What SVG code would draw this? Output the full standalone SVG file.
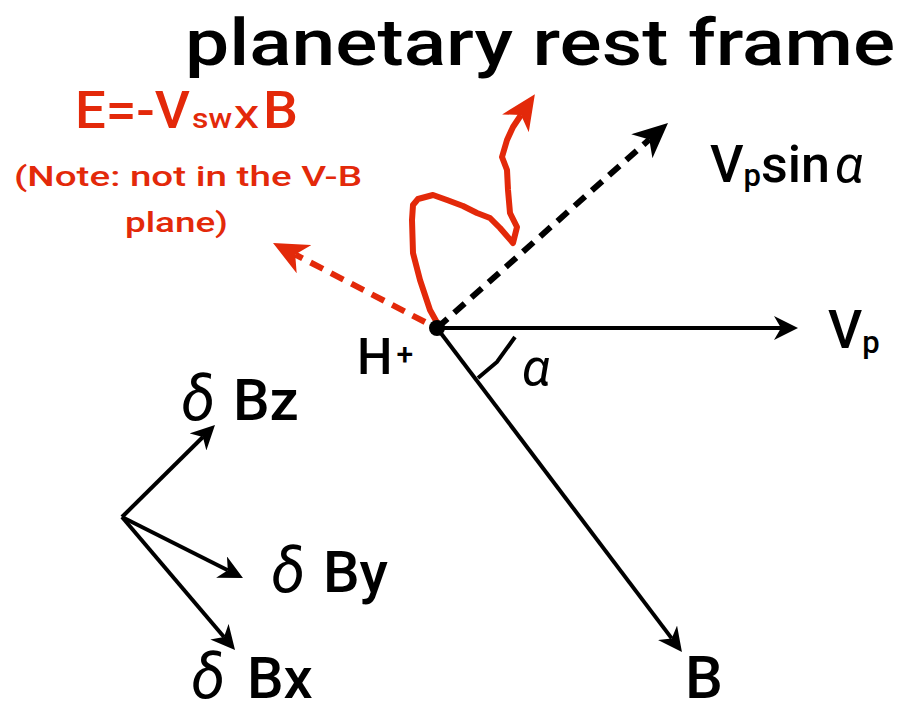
<svg xmlns="http://www.w3.org/2000/svg" width="905" height="713" viewBox="0 0 905 713">
<style>
text{font-family:Roboto,"Liberation Sans",Arial,sans-serif;font-weight:500}
.blk{fill:#000}
.red{fill:#e3290a}
.ln{stroke:#000;stroke-width:4;fill:none}
.dash{stroke-width:6;stroke-dasharray:14 9;fill:none}
.gr{font-style:italic;font-weight:400}
</style>
<defs>
<marker id="ah" markerUnits="userSpaceOnUse" markerWidth="24" markerHeight="24" viewBox="0 0 24 24" refX="7" refY="12" orient="auto"><path d="M24,12 L0,0 L7,12 L0,24 Z" fill="#000"/></marker>
<marker id="ahBig" markerUnits="userSpaceOnUse" markerWidth="35" markerHeight="32" viewBox="0 0 35 32" refX="10" refY="16" orient="auto"><path d="M35,16 L0,0 L10,16 L0,32 Z" fill="#000"/></marker>
<marker id="ahRed" markerUnits="userSpaceOnUse" markerWidth="35" markerHeight="32" viewBox="0 0 35 32" refX="10" refY="16" orient="auto"><path d="M35,16 L0,0 L10,16 L0,32 Z" fill="#e3290a"/></marker>
</defs>
<rect width="905" height="713" fill="#fff"/>
<g id="connectors">
<line class="ln" x1="437" y1="328" x2="781" y2="328" marker-end="url(#ah)"/>
<line class="ln" x1="437" y1="328" x2="671.7" y2="638.4" marker-end="url(#ah)"/>
<line class="dash" stroke="#000" x1="437" y1="328" x2="649.3" y2="139.6" marker-end="url(#ahBig)"/>
<line class="dash" stroke="#e3290a" x1="425" y1="322" x2="295.2" y2="254.5" marker-end="url(#ahRed)"/>
<path d="M440,328 L430,310 L420,280 L413,253 L412,220 L413,205 L418,199 L433,195 L447,200 L463,206 L477,213 L490,218 L500,228 L513,243 L517,227 L510,213 L508,190 L507,170 L502,157 L507,140 L513,127 L521,115" stroke="#e3290a" stroke-width="6" fill="none" stroke-linejoin="round" marker-end="url(#ahRed)"/>
<polyline class="ln" stroke-width="3.5" points="478,378 497,362 515,337"/>
<line class="ln" x1="122" y1="517" x2="202.9" y2="437" marker-end="url(#ah)"/>
<line class="ln" x1="122" y1="517" x2="227.8" y2="570.3" marker-end="url(#ah)"/>
<line class="ln" x1="122" y1="517" x2="224" y2="637" marker-end="url(#ah)"/>
</g>
<g id="title"><text class="blk" x="185" y="65" font-size="64" textLength="710" lengthAdjust="spacingAndGlyphs">planetary rest frame</text></g>
<g id="efield">
<text class="red" x="75" y="128" font-size="51" textLength="115" lengthAdjust="spacingAndGlyphs">E=-V</text>
<text class="red" x="192" y="128" font-size="27" textLength="40" lengthAdjust="spacingAndGlyphs">sw</text>
<text class="red" x="234" y="128" font-size="32" font-weight="400" textLength="25" lengthAdjust="spacingAndGlyphs">X</text>
<text class="red" x="263" y="128" font-size="51" textLength="35" lengthAdjust="spacingAndGlyphs">B</text>
<text class="red" x="14" y="186" font-size="27" textLength="348" lengthAdjust="spacingAndGlyphs">(Note: not in the V-B</text>
<text class="red" x="125" y="232" font-size="27" textLength="103" lengthAdjust="spacingAndGlyphs">plane)</text>
</g>
<g id="proton">
<circle cx="437" cy="328" r="8" fill="#000"/>
<text class="blk" x="357" y="374" font-size="50">H<tspan dx="4" dy="-10" font-size="30">+</tspan></text>
</g>
<g id="vpsin"><text class="blk" x="710" y="182" font-size="52">V<tspan font-size="31" dy="4">p</tspan><tspan dy="-4">sin</tspan><tspan class="gr" dx="5">α</tspan></text></g>
<g id="vp"><text class="blk" x="828" y="348" font-size="53">V<tspan font-size="31" dy="5">p</tspan></text></g>
<g id="alpha"><text class="blk gr" x="522" y="385" font-size="52">α</text></g>
<g id="bfield"><text class="blk" x="685" y="698" font-size="60">B</text></g>
<g id="dbz"><text class="blk" x="181" y="420" font-size="58"><tspan class="gr" font-size="62">δ</tspan><tspan x="233">Bz</tspan></text></g>
<g id="dby"><text class="blk" x="271" y="592" font-size="58"><tspan class="gr" font-size="62">δ</tspan><tspan x="323">By</tspan></text></g>
<g id="dbx"><text class="blk" x="191" y="698" font-size="58"><tspan class="gr" font-size="62">δ</tspan><tspan x="247">Bx</tspan></text></g>
</svg>
